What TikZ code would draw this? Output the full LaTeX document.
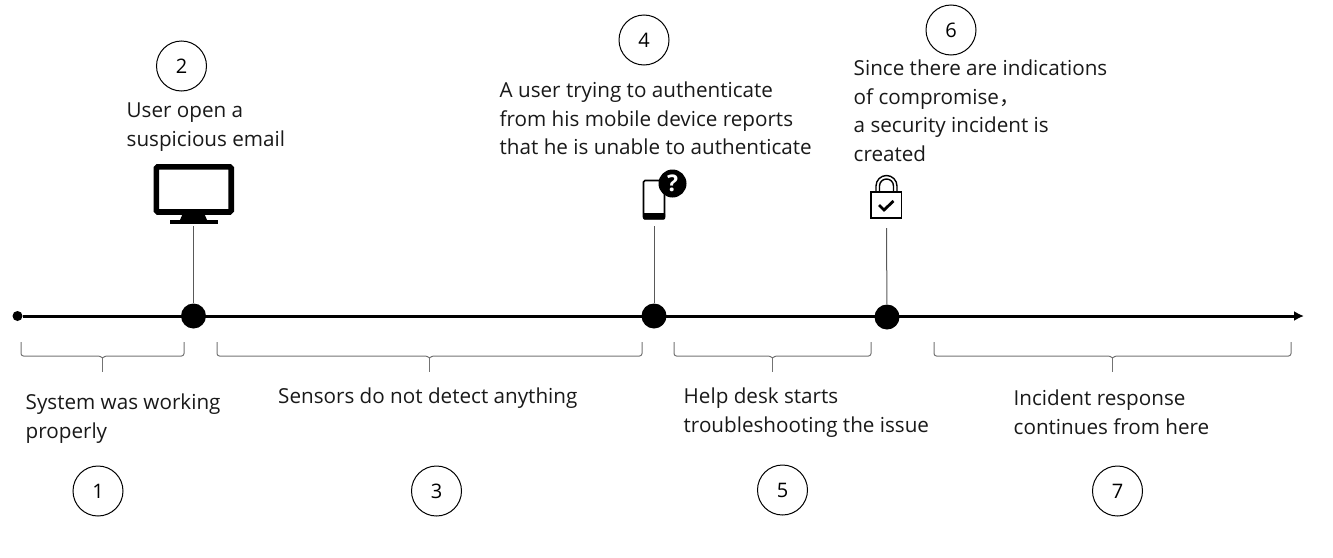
\documentclass[tikz,border=0pt]{standalone}
\usepackage{fontspec}
\setmainfont{Open Sans}
\newfontfamily\cjkfont{Noto Sans CJK SC}
\usetikzlibrary{arrows.meta}
\tikzset{
  x=1pt,y=-1pt,
  num/.style={circle,draw=black,line width=1pt,minimum size=50pt,inner sep=0pt,font=\fontsize{20}{24}\selectfont},
  lbl/.style={anchor=north west,inner sep=0pt,align=left,font=\fontsize{20.65}{28.5}\selectfont,text=black!90},
  dotn/.style={circle,fill=black,inner sep=0pt,minimum size=25pt},
  stem/.style={draw=black!65,line width=1pt},
  brace/.style={draw=black!55,line width=1pt,rounded corners=2.5pt},
  axis/.style={draw=black,line width=3pt},
}
\newcommand{\bracepath}[3]{%
  \draw[brace] (#1,#3) -- (#1,#3+14) -- ({(#1+#2)/2-2},#3+14) -- ({(#1+#2)/2},#3+16);
  \draw[brace] (#2,#3) -- (#2,#3+14) -- ({(#1+#2)/2+2},#3+14) -- ({(#1+#2)/2},#3+16);
  \draw[brace,rounded corners=0pt] ({(#1+#2)/2},#3+15) -- ({(#1+#2)/2},#3+30);
}
\begin{document}
\begin{tikzpicture}
\useasboundingbox (0,0) rectangle (1333,557);
% axis
\node[circle,fill=black,inner sep=0pt,minimum size=10pt] (start) at (17.5,316) {};
\coordinate (end) at (1304,316);
\draw[axis,-{Latex[length=10pt,width=10pt]}] (start) -- (end);
\node[dotn] (d1) at (193.5,316) {};
\node[dotn] (d2) at (654,316) {};
\node[dotn] (d3) at (887,317) {};
% numbered circles
\node[num] (n1) at (98,491) {1};
\node[num] (n2) at (181.5,66) {2};
\node[num] (n3) at (436.5,491) {3};
\node[num] (n4) at (644,40) {4};
\node[num] (n5) at (782.5,490) {5};
\node[num] (n6) at (951,30) {6};
\node[num] (n7) at (1117.5,491) {7};
% labels
\node[lbl] at (126.5,103) {User open a\\suspicious email};
\node[lbl] at (499.5,82) {A user trying to authenticate\\from his mobile device reports\\that he is unable to authenticate};
\node[lbl] at (853.5,60) {Since there are indications\\of compromise{\cjkfont ，}\\a security incident is\\created};
\node[lbl] at (25.5,394) {System was working\\properly};
\node[lbl] at (278,388) {Sensors do not detect anything};
\node[lbl] at (683.5,388) {Help desk starts\\troubleshooting the issue};
\node[lbl] at (1013.5,390) {Incident response\\continues from here};
% stems
\coordinate (s1) at (193.5,226);
\coordinate (s2) at (654,226);
\coordinate (s3) at (886.5,228);
\draw[stem] (s1) -- (d1);
\draw[stem] (s2) -- (d2);
\draw[stem] (s3) -- (d3);
% braces
\bracepath{21}{184}{342}
\bracepath{217}{642}{342}
\bracepath{674}{871}{342}
\bracepath{934}{1291}{342}
% monitor
\draw[black,line width=5.6pt,rounded corners=1.5pt] (156.3,166.8) rectangle (231.2,212);
\fill[black] (183,213) -- (204,213) -- (207,220) -- (180,220) -- cycle;
\fill[black] (170,220) rectangle (217.5,224);
% phone
\draw[black,line width=1.6pt,rounded corners=1.5pt] (643.5,180.5) rectangle (664.5,218.5);
\fill[black,rounded corners=1pt] (643,213) rectangle (665,219.5);
\node[circle,fill=black,minimum size=28pt,inner sep=0pt,text=white,font=\fontsize{23}{23}\selectfont\bfseries] (q) at (672.5,183.5) {?};
% lock
\draw[black,line width=1.4pt] (871,192) rectangle (901.5,218);
\draw[black,line width=1.4pt] (876,192) -- (876,186) arc[start angle=180,end angle=360,radius=10.5] -- (897,192);
\draw[black,line width=1.4pt] (879.5,192) -- (879.5,186) arc[start angle=180,end angle=360,radius=7] -- (893.5,192);
\draw[black,line width=2.8pt] (879,205) -- (884,210) -- (893.5,201);
\end{tikzpicture}
\end{document}
